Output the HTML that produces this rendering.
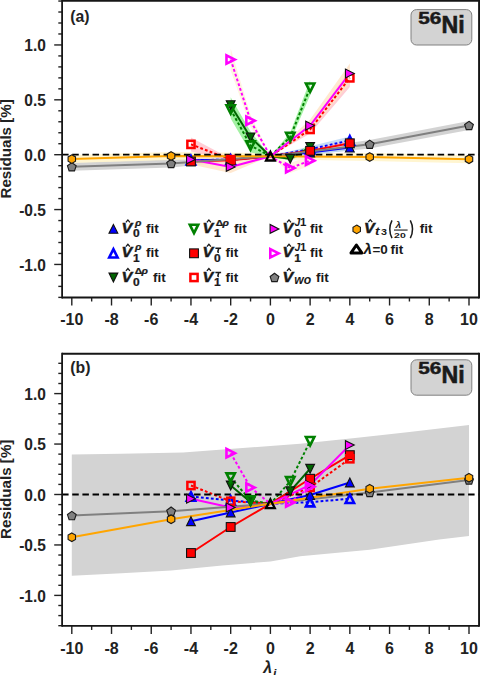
<!DOCTYPE html>
<html><head><meta charset="utf-8"><style>
html,body{margin:0;padding:0;background:#fff;width:480px;height:675px;overflow:hidden;}
svg{display:block;}
text{font-family:"Liberation Sans",sans-serif;}
</style></head><body>
<svg width="480" height="675" viewBox="0 0 480 675">
<rect width="480" height="675" fill="#fff"/>
<polygon points="71.80,162.77 171.10,159.48 270.40,154.24 369.70,140.07 469.00,120.91 469.00,130.11 369.70,148.47 270.40,158.24 171.10,167.48 71.80,170.77" fill="#c8c8c8" fill-opacity="0.8" stroke="none"/>
<polygon points="71.80,155.09 171.10,152.02 270.40,153.24 369.70,153.00 469.00,155.20 469.00,163.20 369.70,161.00 270.40,159.24 171.10,160.02 71.80,163.09" fill="#fff3c4" fill-opacity="0.8" stroke="none"/>
<polygon points="190.96,158.19 230.68,157.64 270.40,156.24 310.12,150.00 349.84,144.57 349.84,150.57 310.12,155.00 270.40,156.24 230.68,161.64 190.96,162.19" fill="#b8d4f4" fill-opacity="0.8" stroke="none"/>
<polygon points="190.96,158.19 230.68,157.64 270.40,156.24 310.12,146.21 349.84,136.43 349.84,144.43 310.12,152.21 270.40,156.24 230.68,161.64 190.96,162.19" fill="#b8d4f4" fill-opacity="0.8" stroke="none"/>
<polygon points="230.68,97.20 250.54,131.47 270.40,156.24 290.26,156.76 310.12,144.02 310.12,150.02 290.26,160.76 270.40,156.24 250.54,143.47 230.68,113.20" fill="#8ced8c" fill-opacity="0.8" stroke="none"/>
<polygon points="230.68,100.48 250.54,138.59 270.40,156.24 290.26,132.42 310.12,80.25 310.12,95.25 290.26,141.42 270.40,156.24 250.54,152.59 230.68,118.48" fill="#8ced8c" fill-opacity="0.8" stroke="none"/>
<polygon points="190.96,159.50 230.68,158.19 270.40,156.24 310.12,148.86 349.84,140.29 349.84,146.29 310.12,152.86 270.40,156.24 230.68,162.19 190.96,163.50" fill="#ffc0cb" fill-opacity="0.8" stroke="none"/>
<polygon points="190.96,137.38 230.68,158.64 270.40,156.24 310.12,125.46 349.84,68.88 349.84,86.88 310.12,133.46 270.40,156.24 230.68,160.64 190.96,151.38" fill="#ffc0cb" fill-opacity="0.8" stroke="none"/>
<polygon points="190.96,154.42 230.68,160.88 270.40,156.24 310.12,119.62 349.84,63.48 349.84,83.48 310.12,131.62 270.40,156.24 230.68,172.88 190.96,164.42" fill="#ffe2c4" fill-opacity="0.8" stroke="none"/>
<polygon points="230.68,48.55 250.54,114.68 270.40,156.24 290.26,163.09 310.12,155.63 310.12,165.63 290.26,173.09 270.40,156.24 250.54,126.68 230.68,70.55" fill="#fff0d8" fill-opacity="0.8" stroke="none"/>
<polyline points="190.96,160.19 230.68,159.64 270.40,156.24 310.12,152.50 349.84,147.57" fill="none" stroke="#0000ff" stroke-width="2.0"/>
<polyline points="190.96,160.19 230.68,159.64 270.40,156.24 310.12,149.21 349.84,140.43" fill="none" stroke="#0000ff" stroke-width="2.0" stroke-dasharray="2.8,2.2"/>
<polyline points="230.68,105.20 250.54,137.47 270.40,156.24 290.26,158.76 310.12,147.02" fill="none" stroke="#006400" stroke-width="2.0"/>
<polyline points="230.68,109.48 250.54,145.59 270.40,156.24 290.26,136.92 310.12,87.75" fill="none" stroke="#008000" stroke-width="2.0" stroke-dasharray="2.8,2.2"/>
<polyline points="190.96,161.50 230.68,160.19 270.40,156.24 310.12,150.86 349.84,143.29" fill="none" stroke="#ff0000" stroke-width="2.0"/>
<polyline points="190.96,144.38 230.68,159.64 270.40,156.24 310.12,129.46 349.84,77.88" fill="none" stroke="#ff0000" stroke-width="2.0" stroke-dasharray="2.8,2.2"/>
<polyline points="190.96,159.42 230.68,166.88 270.40,156.24 310.12,125.62 349.84,73.48" fill="none" stroke="#ff00ff" stroke-width="2.0"/>
<polyline points="230.68,59.55 250.54,120.68 270.40,156.24 290.26,168.09 310.12,160.63" fill="none" stroke="#ff00ff" stroke-width="2.0" stroke-dasharray="2.8,2.2"/>
<polyline points="71.80,166.77 171.10,163.48 270.40,156.24 369.70,144.27 469.00,125.51" fill="none" stroke="#808080" stroke-width="2.0"/>
<polyline points="71.80,159.09 171.10,156.02 270.40,156.24 369.70,157.00 469.00,159.20" fill="none" stroke="#FFA500" stroke-width="2.0"/>
<line x1="62.1" y1="154.70" x2="478.8" y2="154.70" stroke="#000" stroke-width="1.8" stroke-dasharray="6.5,3.65"/>
<polygon points="71.80,162.57 76.17,165.75 74.50,170.89 69.10,170.89 67.43,165.75" fill="#808080" stroke="#1a1a1a" stroke-width="1.1"/>
<polygon points="171.10,159.28 175.47,162.46 173.80,167.60 168.40,167.60 166.73,162.46" fill="#808080" stroke="#1a1a1a" stroke-width="1.1"/>
<polygon points="369.70,140.07 374.07,143.25 372.40,148.40 367.00,148.40 365.33,143.25" fill="#808080" stroke="#1a1a1a" stroke-width="1.1"/>
<polygon points="469.00,121.31 473.37,124.49 471.70,129.63 466.30,129.63 464.63,124.49" fill="#808080" stroke="#1a1a1a" stroke-width="1.1"/>
<polygon points="71.80,154.79 75.52,156.94 75.52,161.24 71.80,163.39 68.08,161.24 68.08,156.94" fill="#FFA500" stroke="#1a1a1a" stroke-width="1.1"/>
<polygon points="171.10,151.72 174.82,153.87 174.82,158.17 171.10,160.32 167.38,158.17 167.38,153.87" fill="#FFA500" stroke="#1a1a1a" stroke-width="1.1"/>
<polygon points="369.70,152.70 373.42,154.85 373.42,159.15 369.70,161.30 365.98,159.15 365.98,154.85" fill="#FFA500" stroke="#1a1a1a" stroke-width="1.1"/>
<polygon points="469.00,154.90 472.72,157.05 472.72,161.35 469.00,163.50 465.28,161.35 465.28,157.05" fill="#FFA500" stroke="#1a1a1a" stroke-width="1.1"/>
<polygon points="190.96,155.79 195.36,164.59 186.56,164.59" fill="#0000ff" stroke="#111" stroke-width="1.1" stroke-linejoin="miter"/>
<polygon points="230.68,155.24 235.08,164.04 226.28,164.04" fill="#0000ff" stroke="#111" stroke-width="1.1" stroke-linejoin="miter"/>
<polygon points="310.12,148.10 314.52,156.91 305.72,156.91" fill="#0000ff" stroke="#111" stroke-width="1.1" stroke-linejoin="miter"/>
<polygon points="349.84,143.17 354.24,151.97 345.44,151.97" fill="#0000ff" stroke="#111" stroke-width="1.1" stroke-linejoin="miter"/>
<polygon points="190.96,155.99 195.16,164.39 186.76,164.39" fill="none" stroke="#0000ff" stroke-width="2.6" stroke-linejoin="miter"/>
<polygon points="230.68,155.44 234.88,163.84 226.48,163.84" fill="none" stroke="#0000ff" stroke-width="2.6" stroke-linejoin="miter"/>
<polygon points="310.12,145.01 314.32,153.41 305.92,153.41" fill="none" stroke="#0000ff" stroke-width="2.6" stroke-linejoin="miter"/>
<polygon points="349.84,136.23 354.04,144.63 345.64,144.63" fill="none" stroke="#0000ff" stroke-width="2.6" stroke-linejoin="miter"/>
<polygon points="230.68,109.60 235.08,100.80 226.28,100.80" fill="#006400" stroke="#111" stroke-width="1.1"/>
<polygon points="250.54,141.87 254.94,133.07 246.14,133.07" fill="#006400" stroke="#111" stroke-width="1.1"/>
<polygon points="290.26,163.16 294.66,154.36 285.86,154.36" fill="#006400" stroke="#111" stroke-width="1.1"/>
<polygon points="310.12,151.42 314.52,142.62 305.72,142.62" fill="#006400" stroke="#111" stroke-width="1.1"/>
<polygon points="230.68,113.68 234.88,105.28 226.48,105.28" fill="none" stroke="#008000" stroke-width="2.6"/>
<polygon points="250.54,149.79 254.74,141.39 246.34,141.39" fill="none" stroke="#008000" stroke-width="2.6"/>
<polygon points="290.26,141.12 294.46,132.72 286.06,132.72" fill="none" stroke="#008000" stroke-width="2.6"/>
<polygon points="310.12,91.95 314.32,83.55 305.92,83.55" fill="none" stroke="#008000" stroke-width="2.6"/>
<rect x="186.56" y="157.10" width="8.80" height="8.80" fill="#ff0000" stroke="#111" stroke-width="1.1"/>
<rect x="226.28" y="155.79" width="8.80" height="8.80" fill="#ff0000" stroke="#111" stroke-width="1.1"/>
<rect x="305.72" y="146.46" width="8.80" height="8.80" fill="#ff0000" stroke="#111" stroke-width="1.1"/>
<rect x="345.44" y="138.89" width="8.80" height="8.80" fill="#ff0000" stroke="#111" stroke-width="1.1"/>
<rect x="187.36" y="140.78" width="7.20" height="7.20" fill="none" stroke="#ff0000" stroke-width="2.5"/>
<rect x="227.08" y="156.04" width="7.20" height="7.20" fill="none" stroke="#ff0000" stroke-width="2.5"/>
<rect x="306.52" y="125.86" width="7.20" height="7.20" fill="none" stroke="#ff0000" stroke-width="2.5"/>
<rect x="346.24" y="74.28" width="7.20" height="7.20" fill="none" stroke="#ff0000" stroke-width="2.5"/>
<polygon points="195.36,159.42 186.56,155.02 186.56,163.82" fill="#ff00ff" stroke="#111" stroke-width="1.1"/>
<polygon points="235.08,166.88 226.28,162.48 226.28,171.28" fill="#ff00ff" stroke="#111" stroke-width="1.1"/>
<polygon points="314.52,125.62 305.72,121.22 305.72,130.02" fill="#ff00ff" stroke="#111" stroke-width="1.1"/>
<polygon points="354.24,73.48 345.44,69.08 345.44,77.88" fill="#ff00ff" stroke="#111" stroke-width="1.1"/>
<polygon points="234.88,59.55 226.48,55.35 226.48,63.75" fill="none" stroke="#ff00ff" stroke-width="2.6"/>
<polygon points="254.74,120.68 246.34,116.48 246.34,124.88" fill="none" stroke="#ff00ff" stroke-width="2.6"/>
<polygon points="294.46,168.09 286.06,163.89 286.06,172.29" fill="none" stroke="#ff00ff" stroke-width="2.6"/>
<polygon points="314.32,160.63 305.92,156.43 305.92,164.83" fill="none" stroke="#ff00ff" stroke-width="2.6"/>
<polygon points="270.40,151.94 274.70,160.54 266.10,160.54" fill="none" stroke="#000" stroke-width="2.4" stroke-linejoin="miter"/>
<line x1="58.3" y1="297.38" x2="62.1" y2="297.38" stroke="#222" stroke-width="1.4"/>
<line x1="58.3" y1="286.40" x2="62.1" y2="286.40" stroke="#222" stroke-width="1.4"/>
<line x1="58.3" y1="275.43" x2="62.1" y2="275.43" stroke="#222" stroke-width="1.4"/>
<line x1="54.2" y1="264.45" x2="62.1" y2="264.45" stroke="#222" stroke-width="1.4"/>
<text x="0" y="0" transform="translate(45.9,270.55) scale(0.97,1)" text-anchor="end" font-size="16" font-weight="bold" font-family="Liberation Sans, sans-serif" fill="#222">-1.0</text>
<line x1="58.3" y1="253.47" x2="62.1" y2="253.47" stroke="#222" stroke-width="1.4"/>
<line x1="58.3" y1="242.50" x2="62.1" y2="242.50" stroke="#222" stroke-width="1.4"/>
<line x1="58.3" y1="231.52" x2="62.1" y2="231.52" stroke="#222" stroke-width="1.4"/>
<line x1="58.3" y1="220.55" x2="62.1" y2="220.55" stroke="#222" stroke-width="1.4"/>
<line x1="54.2" y1="209.57" x2="62.1" y2="209.57" stroke="#222" stroke-width="1.4"/>
<text x="0" y="0" transform="translate(45.9,215.67) scale(0.97,1)" text-anchor="end" font-size="16" font-weight="bold" font-family="Liberation Sans, sans-serif" fill="#222">-0.5</text>
<line x1="58.3" y1="198.60" x2="62.1" y2="198.60" stroke="#222" stroke-width="1.4"/>
<line x1="58.3" y1="187.62" x2="62.1" y2="187.62" stroke="#222" stroke-width="1.4"/>
<line x1="58.3" y1="176.65" x2="62.1" y2="176.65" stroke="#222" stroke-width="1.4"/>
<line x1="58.3" y1="165.67" x2="62.1" y2="165.67" stroke="#222" stroke-width="1.4"/>
<line x1="54.2" y1="154.70" x2="62.1" y2="154.70" stroke="#222" stroke-width="1.4"/>
<text x="0" y="0" transform="translate(45.9,160.80) scale(0.97,1)" text-anchor="end" font-size="16" font-weight="bold" font-family="Liberation Sans, sans-serif" fill="#222">0.0</text>
<line x1="58.3" y1="143.72" x2="62.1" y2="143.72" stroke="#222" stroke-width="1.4"/>
<line x1="58.3" y1="132.75" x2="62.1" y2="132.75" stroke="#222" stroke-width="1.4"/>
<line x1="58.3" y1="121.77" x2="62.1" y2="121.77" stroke="#222" stroke-width="1.4"/>
<line x1="58.3" y1="110.80" x2="62.1" y2="110.80" stroke="#222" stroke-width="1.4"/>
<line x1="54.2" y1="99.82" x2="62.1" y2="99.82" stroke="#222" stroke-width="1.4"/>
<text x="0" y="0" transform="translate(45.9,105.92) scale(0.97,1)" text-anchor="end" font-size="16" font-weight="bold" font-family="Liberation Sans, sans-serif" fill="#222">0.5</text>
<line x1="58.3" y1="88.85" x2="62.1" y2="88.85" stroke="#222" stroke-width="1.4"/>
<line x1="58.3" y1="77.88" x2="62.1" y2="77.88" stroke="#222" stroke-width="1.4"/>
<line x1="58.3" y1="66.90" x2="62.1" y2="66.90" stroke="#222" stroke-width="1.4"/>
<line x1="58.3" y1="55.92" x2="62.1" y2="55.92" stroke="#222" stroke-width="1.4"/>
<line x1="54.2" y1="44.95" x2="62.1" y2="44.95" stroke="#222" stroke-width="1.4"/>
<text x="0" y="0" transform="translate(45.9,51.05) scale(0.97,1)" text-anchor="end" font-size="16" font-weight="bold" font-family="Liberation Sans, sans-serif" fill="#222">1.0</text>
<line x1="58.3" y1="33.97" x2="62.1" y2="33.97" stroke="#222" stroke-width="1.4"/>
<line x1="58.3" y1="23.00" x2="62.1" y2="23.00" stroke="#222" stroke-width="1.4"/>
<line x1="58.3" y1="12.02" x2="62.1" y2="12.02" stroke="#222" stroke-width="1.4"/>
<line x1="58.3" y1="1.05" x2="62.1" y2="1.05" stroke="#222" stroke-width="1.4"/>
<line x1="71.80" y1="297.5" x2="71.80" y2="305.5" stroke="#222" stroke-width="1.4"/>
<text x="71.80" y="325.10" text-anchor="middle" font-size="16" font-weight="bold" font-family="Liberation Sans, sans-serif" fill="#222">-10</text>
<line x1="91.66" y1="297.5" x2="91.66" y2="301.5" stroke="#222" stroke-width="1.4"/>
<line x1="111.52" y1="297.5" x2="111.52" y2="305.5" stroke="#222" stroke-width="1.4"/>
<text x="111.52" y="325.10" text-anchor="middle" font-size="16" font-weight="bold" font-family="Liberation Sans, sans-serif" fill="#222">-8</text>
<line x1="131.38" y1="297.5" x2="131.38" y2="301.5" stroke="#222" stroke-width="1.4"/>
<line x1="151.24" y1="297.5" x2="151.24" y2="305.5" stroke="#222" stroke-width="1.4"/>
<text x="151.24" y="325.10" text-anchor="middle" font-size="16" font-weight="bold" font-family="Liberation Sans, sans-serif" fill="#222">-6</text>
<line x1="171.10" y1="297.5" x2="171.10" y2="301.5" stroke="#222" stroke-width="1.4"/>
<line x1="190.96" y1="297.5" x2="190.96" y2="305.5" stroke="#222" stroke-width="1.4"/>
<text x="190.96" y="325.10" text-anchor="middle" font-size="16" font-weight="bold" font-family="Liberation Sans, sans-serif" fill="#222">-4</text>
<line x1="210.82" y1="297.5" x2="210.82" y2="301.5" stroke="#222" stroke-width="1.4"/>
<line x1="230.68" y1="297.5" x2="230.68" y2="305.5" stroke="#222" stroke-width="1.4"/>
<text x="230.68" y="325.10" text-anchor="middle" font-size="16" font-weight="bold" font-family="Liberation Sans, sans-serif" fill="#222">-2</text>
<line x1="250.54" y1="297.5" x2="250.54" y2="301.5" stroke="#222" stroke-width="1.4"/>
<line x1="270.40" y1="297.5" x2="270.40" y2="305.5" stroke="#222" stroke-width="1.4"/>
<text x="270.40" y="325.10" text-anchor="middle" font-size="16" font-weight="bold" font-family="Liberation Sans, sans-serif" fill="#222">0</text>
<line x1="290.26" y1="297.5" x2="290.26" y2="301.5" stroke="#222" stroke-width="1.4"/>
<line x1="310.12" y1="297.5" x2="310.12" y2="305.5" stroke="#222" stroke-width="1.4"/>
<text x="310.12" y="325.10" text-anchor="middle" font-size="16" font-weight="bold" font-family="Liberation Sans, sans-serif" fill="#222">2</text>
<line x1="329.98" y1="297.5" x2="329.98" y2="301.5" stroke="#222" stroke-width="1.4"/>
<line x1="349.84" y1="297.5" x2="349.84" y2="305.5" stroke="#222" stroke-width="1.4"/>
<text x="349.84" y="325.10" text-anchor="middle" font-size="16" font-weight="bold" font-family="Liberation Sans, sans-serif" fill="#222">4</text>
<line x1="369.70" y1="297.5" x2="369.70" y2="301.5" stroke="#222" stroke-width="1.4"/>
<line x1="389.56" y1="297.5" x2="389.56" y2="305.5" stroke="#222" stroke-width="1.4"/>
<text x="389.56" y="325.10" text-anchor="middle" font-size="16" font-weight="bold" font-family="Liberation Sans, sans-serif" fill="#222">6</text>
<line x1="409.42" y1="297.5" x2="409.42" y2="301.5" stroke="#222" stroke-width="1.4"/>
<line x1="429.28" y1="297.5" x2="429.28" y2="305.5" stroke="#222" stroke-width="1.4"/>
<text x="429.28" y="325.10" text-anchor="middle" font-size="16" font-weight="bold" font-family="Liberation Sans, sans-serif" fill="#222">8</text>
<line x1="449.14" y1="297.5" x2="449.14" y2="301.5" stroke="#222" stroke-width="1.4"/>
<line x1="469.00" y1="297.5" x2="469.00" y2="305.5" stroke="#222" stroke-width="1.4"/>
<text x="469.00" y="325.10" text-anchor="middle" font-size="16" font-weight="bold" font-family="Liberation Sans, sans-serif" fill="#222">10</text>
<path d="M62.1,0.8 H479.1 M62.1,297.5 H479.1" stroke="#161616" stroke-width="1.8" fill="none"/>
<path d="M62.1,-0.09999999999999998 V298.4" stroke="#161616" stroke-width="1.8" fill="none"/>
<path d="M479.1,-0.09999999999999998 V298.4" stroke="#161616" stroke-width="2.0" fill="none"/>
<text x="70.3" y="21.7" font-size="15.8" font-weight="bold" font-family="Liberation Sans, sans-serif" fill="#222">(a)</text>
<rect x="411" y="9.6" width="60.8" height="35.4" rx="5.5" fill="#d3d3d3" stroke="#808080" stroke-width="1"/>
<text x="0" y="0" transform="translate(418.2,23.70) scale(1.3,1)" font-size="16" font-weight="bold" font-family="Liberation Sans, sans-serif" fill="#1a1a1a" stroke="#1a1a1a" stroke-width="0.45">56</text>
<text x="441.5" y="33.2" font-size="23.2" font-weight="bold" font-family="Liberation Sans, sans-serif" fill="#1a1a1a" stroke="#1a1a1a" stroke-width="0.6">Ni</text>
<polygon points="113.40,224.50 117.80,233.30 109.00,233.30" fill="#0000ff" stroke="#111" stroke-width="1.1" stroke-linejoin="miter"/>
<text x="0" y="0" transform="translate(121.50,232.90) scale(1.1,1)" font-size="14.6" font-weight="bold" font-style="italic" stroke="#1a1a1a" stroke-width="0.5" font-family="Liberation Sans, sans-serif" fill="#1a1a1a">V</text>
<path d="M125.90,222.30 L127.90,219.90 L129.90,222.30" fill="none" stroke="#1a1a1a" stroke-width="1.3"/>
<text x="0" y="0" transform="translate(133.10,237.10) scale(1.15,1)" font-size="10.4" font-weight="bold" stroke="#1a1a1a" stroke-width="0.25" font-family="Liberation Sans, sans-serif" fill="#1a1a1a">0</text>
<text x="0" y="0" transform="translate(135.10,225.80) scale(1.1,1)" font-size="9.6" font-weight="bold" font-style="italic" stroke="#1a1a1a" stroke-width="0.25" font-family="Liberation Sans, sans-serif" fill="#1a1a1a">ρ</text>
<text x="145.90" y="232.90" font-size="13.5" font-weight="bold" font-family="Liberation Sans, sans-serif" fill="#1a1a1a">fit</text>
<polygon points="113.40,249.10 117.60,257.50 109.20,257.50" fill="none" stroke="#0000ff" stroke-width="2.6" stroke-linejoin="miter"/>
<text x="0" y="0" transform="translate(121.50,257.30) scale(1.1,1)" font-size="14.6" font-weight="bold" font-style="italic" stroke="#1a1a1a" stroke-width="0.5" font-family="Liberation Sans, sans-serif" fill="#1a1a1a">V</text>
<path d="M125.90,246.70 L127.90,244.30 L129.90,246.70" fill="none" stroke="#1a1a1a" stroke-width="1.3"/>
<text x="0" y="0" transform="translate(133.10,261.50) scale(1.15,1)" font-size="10.4" font-weight="bold" stroke="#1a1a1a" stroke-width="0.25" font-family="Liberation Sans, sans-serif" fill="#1a1a1a">1</text>
<text x="0" y="0" transform="translate(135.10,250.20) scale(1.1,1)" font-size="9.6" font-weight="bold" font-style="italic" stroke="#1a1a1a" stroke-width="0.25" font-family="Liberation Sans, sans-serif" fill="#1a1a1a">ρ</text>
<text x="145.90" y="257.30" font-size="13.5" font-weight="bold" font-family="Liberation Sans, sans-serif" fill="#1a1a1a">fit</text>
<polygon points="113.40,281.90 117.80,273.10 109.00,273.10" fill="#006400" stroke="#111" stroke-width="1.1"/>
<text x="0" y="0" transform="translate(121.50,281.50) scale(1.1,1)" font-size="14.6" font-weight="bold" font-style="italic" stroke="#1a1a1a" stroke-width="0.5" font-family="Liberation Sans, sans-serif" fill="#1a1a1a">V</text>
<path d="M125.90,270.90 L127.90,268.50 L129.90,270.90" fill="none" stroke="#1a1a1a" stroke-width="1.3"/>
<text x="0" y="0" transform="translate(133.10,285.70) scale(1.15,1)" font-size="10.4" font-weight="bold" stroke="#1a1a1a" stroke-width="0.25" font-family="Liberation Sans, sans-serif" fill="#1a1a1a">0</text>
<text x="0" y="0" transform="translate(134.70,274.40) scale(1.1,1)" font-size="9.4" font-weight="bold" stroke="#1a1a1a" stroke-width="0.25" font-family="Liberation Sans, sans-serif" fill="#1a1a1a">Δ</text>
<text x="0" y="0" transform="translate(141.40,274.40) scale(1.1,1)" font-size="9.6" font-weight="bold" font-style="italic" stroke="#1a1a1a" stroke-width="0.25" font-family="Liberation Sans, sans-serif" fill="#1a1a1a">ρ</text>
<text x="153.00" y="281.50" font-size="13.5" font-weight="bold" font-family="Liberation Sans, sans-serif" fill="#1a1a1a">fit</text>
<polygon points="194.00,233.10 198.20,224.70 189.80,224.70" fill="none" stroke="#008000" stroke-width="2.6"/>
<text x="0" y="0" transform="translate(202.50,232.90) scale(1.1,1)" font-size="14.6" font-weight="bold" font-style="italic" stroke="#1a1a1a" stroke-width="0.5" font-family="Liberation Sans, sans-serif" fill="#1a1a1a">V</text>
<path d="M206.90,222.30 L208.90,219.90 L210.90,222.30" fill="none" stroke="#1a1a1a" stroke-width="1.3"/>
<text x="0" y="0" transform="translate(214.10,237.10) scale(1.15,1)" font-size="10.4" font-weight="bold" stroke="#1a1a1a" stroke-width="0.25" font-family="Liberation Sans, sans-serif" fill="#1a1a1a">1</text>
<text x="0" y="0" transform="translate(215.70,225.80) scale(1.1,1)" font-size="9.4" font-weight="bold" stroke="#1a1a1a" stroke-width="0.25" font-family="Liberation Sans, sans-serif" fill="#1a1a1a">Δ</text>
<text x="0" y="0" transform="translate(222.40,225.80) scale(1.1,1)" font-size="9.6" font-weight="bold" font-style="italic" stroke="#1a1a1a" stroke-width="0.25" font-family="Liberation Sans, sans-serif" fill="#1a1a1a">ρ</text>
<text x="233.90" y="232.90" font-size="13.5" font-weight="bold" font-family="Liberation Sans, sans-serif" fill="#1a1a1a">fit</text>
<rect x="189.60" y="248.90" width="8.80" height="8.80" fill="#ff0000" stroke="#111" stroke-width="1.1"/>
<text x="0" y="0" transform="translate(202.50,257.30) scale(1.1,1)" font-size="14.6" font-weight="bold" font-style="italic" stroke="#1a1a1a" stroke-width="0.5" font-family="Liberation Sans, sans-serif" fill="#1a1a1a">V</text>
<path d="M206.90,246.70 L208.90,244.30 L210.90,246.70" fill="none" stroke="#1a1a1a" stroke-width="1.3"/>
<text x="0" y="0" transform="translate(214.10,261.50) scale(1.15,1)" font-size="10.4" font-weight="bold" stroke="#1a1a1a" stroke-width="0.25" font-family="Liberation Sans, sans-serif" fill="#1a1a1a">0</text>
<path d="M215.40,248.30 L221.10,248.30 M218.80,248.30 L217.90,251.40 Q217.70,252.30 218.90,252.20" fill="none" stroke="#1a1a1a" stroke-width="1.6"/>
<text x="225.40" y="257.30" font-size="13.5" font-weight="bold" font-family="Liberation Sans, sans-serif" fill="#1a1a1a">fit</text>
<rect x="190.40" y="273.90" width="7.20" height="7.20" fill="none" stroke="#ff0000" stroke-width="2.5"/>
<text x="0" y="0" transform="translate(202.50,281.50) scale(1.1,1)" font-size="14.6" font-weight="bold" font-style="italic" stroke="#1a1a1a" stroke-width="0.5" font-family="Liberation Sans, sans-serif" fill="#1a1a1a">V</text>
<path d="M206.90,270.90 L208.90,268.50 L210.90,270.90" fill="none" stroke="#1a1a1a" stroke-width="1.3"/>
<text x="0" y="0" transform="translate(214.10,285.70) scale(1.15,1)" font-size="10.4" font-weight="bold" stroke="#1a1a1a" stroke-width="0.25" font-family="Liberation Sans, sans-serif" fill="#1a1a1a">1</text>
<path d="M215.40,272.50 L221.10,272.50 M218.80,272.50 L217.90,275.60 Q217.70,276.50 218.90,276.40" fill="none" stroke="#1a1a1a" stroke-width="1.6"/>
<text x="225.40" y="281.50" font-size="13.5" font-weight="bold" font-family="Liberation Sans, sans-serif" fill="#1a1a1a">fit</text>
<polygon points="278.90,228.90 270.10,224.50 270.10,233.30" fill="#ff00ff" stroke="#111" stroke-width="1.1"/>
<text x="0" y="0" transform="translate(282.60,232.90) scale(1.1,1)" font-size="14.6" font-weight="bold" font-style="italic" stroke="#1a1a1a" stroke-width="0.5" font-family="Liberation Sans, sans-serif" fill="#1a1a1a">V</text>
<path d="M287.00,222.30 L289.00,219.90 L291.00,222.30" fill="none" stroke="#1a1a1a" stroke-width="1.3"/>
<text x="0" y="0" transform="translate(294.20,237.10) scale(1.15,1)" font-size="10.4" font-weight="bold" stroke="#1a1a1a" stroke-width="0.25" font-family="Liberation Sans, sans-serif" fill="#1a1a1a">0</text>
<text x="294.50" y="226.40" font-size="10.4" font-weight="bold" font-style="italic" font-family="Liberation Sans, sans-serif" fill="#1a1a1a">J</text>
<text x="0" y="0" transform="translate(300.00,226.40) scale(1.15,1)" font-size="10.0" font-weight="bold" font-family="Liberation Sans, sans-serif" fill="#1a1a1a">1</text>
<text x="310.00" y="232.90" font-size="13.5" font-weight="bold" font-family="Liberation Sans, sans-serif" fill="#1a1a1a">fit</text>
<polygon points="278.70,253.30 270.30,249.10 270.30,257.50" fill="none" stroke="#ff00ff" stroke-width="2.6"/>
<text x="0" y="0" transform="translate(282.60,257.30) scale(1.1,1)" font-size="14.6" font-weight="bold" font-style="italic" stroke="#1a1a1a" stroke-width="0.5" font-family="Liberation Sans, sans-serif" fill="#1a1a1a">V</text>
<path d="M287.00,246.70 L289.00,244.30 L291.00,246.70" fill="none" stroke="#1a1a1a" stroke-width="1.3"/>
<text x="0" y="0" transform="translate(294.20,261.50) scale(1.15,1)" font-size="10.4" font-weight="bold" stroke="#1a1a1a" stroke-width="0.25" font-family="Liberation Sans, sans-serif" fill="#1a1a1a">1</text>
<text x="294.50" y="250.80" font-size="10.4" font-weight="bold" font-style="italic" font-family="Liberation Sans, sans-serif" fill="#1a1a1a">J</text>
<text x="0" y="0" transform="translate(300.00,250.80) scale(1.15,1)" font-size="10.0" font-weight="bold" font-family="Liberation Sans, sans-serif" fill="#1a1a1a">1</text>
<text x="310.00" y="257.30" font-size="13.5" font-weight="bold" font-family="Liberation Sans, sans-serif" fill="#1a1a1a">fit</text>
<polygon points="274.50,273.30 278.87,276.48 277.20,281.62 271.80,281.62 270.13,276.48" fill="#808080" stroke="#1a1a1a" stroke-width="1.1"/>
<text x="0" y="0" transform="translate(282.60,281.50) scale(1.1,1)" font-size="14.6" font-weight="bold" font-style="italic" stroke="#1a1a1a" stroke-width="0.5" font-family="Liberation Sans, sans-serif" fill="#1a1a1a">V</text>
<path d="M287.00,270.90 L289.00,268.50 L291.00,270.90" fill="none" stroke="#1a1a1a" stroke-width="1.3"/>
<text x="294.20" y="284.40" font-size="12.2" font-weight="bold" font-style="italic" font-family="Liberation Sans, sans-serif" fill="#1a1a1a">wo</text>
<text x="316.00" y="281.50" font-size="13.5" font-weight="bold" font-family="Liberation Sans, sans-serif" fill="#1a1a1a">fit</text>
<polygon points="356.70,225.05 360.42,227.20 360.42,231.50 356.70,233.65 352.98,231.50 352.98,227.20" fill="#FFA500" stroke="#1a1a1a" stroke-width="1.1"/>
<text x="0" y="0" transform="translate(363.90,232.65) scale(1.1,1)" font-size="14.6" font-weight="bold" font-style="italic" stroke="#1a1a1a" stroke-width="0.5" font-family="Liberation Sans, sans-serif" fill="#1a1a1a">V</text>
<path d="M368.30,222.05 L370.30,219.65 L372.30,222.05" fill="none" stroke="#1a1a1a" stroke-width="1.3"/>
<text x="0" y="0" transform="translate(375.00,234.90) scale(1.3,1)" font-size="10.5" font-weight="bold" font-style="italic" font-family="Liberation Sans, sans-serif" fill="#1a1a1a">t</text>
<text x="0" y="0" transform="translate(380.90,234.90) scale(1.25,1)" font-size="8.6" font-weight="bold" font-family="Liberation Sans, sans-serif" fill="#1a1a1a">3</text>
<path d="M392.0,220.4 Q387.5,229.3 392.0,238.2" fill="none" stroke="#1a1a1a" stroke-width="1.5"/>
<path d="M410.3,220.4 Q414.8,229.3 410.3,238.2" fill="none" stroke="#1a1a1a" stroke-width="1.5"/>
<text x="0" y="0" transform="translate(395.60,227.80) scale(1.05,1)" font-size="9.6" font-weight="bold" font-style="italic" font-family="Liberation Sans, sans-serif" fill="#1a1a1a">λ</text>
<line x1="394" y1="230.05" x2="407.6" y2="230.05" stroke="#1a1a1a" stroke-width="1.1"/>
<text x="0" y="0" transform="translate(394.10,237.90) scale(1.38,1)" font-size="7.6" font-weight="bold" font-family="Liberation Sans, sans-serif" fill="#1a1a1a">20</text>
<text x="419.80" y="232.65" font-size="13.5" font-weight="bold" font-family="Liberation Sans, sans-serif" fill="#1a1a1a">fit</text>
<polygon points="356.4,245.0 361.8,252.9 351.0,252.9" fill="none" stroke="#000" stroke-width="3.0" stroke-linejoin="round"/>
<text x="0" y="0" transform="translate(363.60,254.00) scale(1.08,1)" font-size="14.2" font-weight="bold" font-style="italic" font-family="Liberation Sans, sans-serif" fill="#1a1a1a">λ</text>
<text x="372.40" y="254.00" font-size="13.5" font-weight="bold" font-family="Liberation Sans, sans-serif" fill="#1a1a1a">=0</text>
<text x="390.60" y="254.00" font-size="13.5" font-weight="bold" font-family="Liberation Sans, sans-serif" fill="#1a1a1a">fit</text>
<polygon points="71.80,454.44 121.45,453.84 183.02,452.42 222.74,449.40 270.40,446.07 300.19,443.75 359.77,437.49 409.42,432.04 469.00,425.08 469.00,535.97 439.21,539.60 369.70,549.79 300.19,556.15 281.92,559.48 270.40,561.50 222.14,565.53 171.10,570.58 121.45,573.20 71.80,575.72" fill="#d3d3d3"/>
<polyline points="190.96,521.24 230.68,512.46 270.40,503.78 310.12,495.00 349.84,482.49" fill="none" stroke="#0000ff" stroke-width="2.0"/>
<polyline points="190.96,496.52 230.68,500.55 270.40,503.78 310.12,502.17 349.84,498.74" fill="none" stroke="#0000ff" stroke-width="2.0" stroke-dasharray="2.8,2.2"/>
<polyline points="230.68,485.52 250.54,501.97 270.40,503.78 290.26,491.27 310.12,468.77" fill="none" stroke="#006400" stroke-width="2.0"/>
<polyline points="230.68,477.55 250.54,500.55 270.40,503.78 290.26,481.28 310.12,441.22" fill="none" stroke="#008000" stroke-width="2.0" stroke-dasharray="2.8,2.2"/>
<polyline points="190.96,553.02 230.68,526.99 270.40,503.78 310.12,478.76 349.84,455.15" fill="none" stroke="#ff0000" stroke-width="2.0"/>
<polyline points="190.96,485.52 230.68,501.26 270.40,503.78 310.12,487.44 349.84,458.78" fill="none" stroke="#ff0000" stroke-width="2.0" stroke-dasharray="2.8,2.2"/>
<polyline points="190.96,498.74 230.68,507.52 270.40,503.78 310.12,485.02 349.84,445.06" fill="none" stroke="#ff00ff" stroke-width="2.0"/>
<polyline points="230.68,453.13 250.54,487.54 270.40,503.78 290.26,502.47 310.12,486.73" fill="none" stroke="#ff00ff" stroke-width="2.0" stroke-dasharray="2.8,2.2"/>
<polyline points="71.80,515.59 171.10,511.25 270.40,503.78 369.70,492.48 469.00,479.97" fill="none" stroke="#808080" stroke-width="2.0"/>
<polyline points="71.80,537.28 171.10,519.22 270.40,503.78 369.70,488.75 469.00,477.75" fill="none" stroke="#FFA500" stroke-width="2.0"/>
<line x1="62.1" y1="494.50" x2="478.8" y2="494.50" stroke="#000" stroke-width="1.8" stroke-dasharray="6.5,3.65"/>
<polygon points="71.80,511.39 76.17,514.57 74.50,519.71 69.10,519.71 67.43,514.57" fill="#808080" stroke="#1a1a1a" stroke-width="1.1"/>
<polygon points="171.10,507.05 175.47,510.23 173.80,515.37 168.40,515.37 166.73,510.23" fill="#808080" stroke="#1a1a1a" stroke-width="1.1"/>
<polygon points="369.70,488.28 374.07,491.46 372.40,496.60 367.00,496.60 365.33,491.46" fill="#808080" stroke="#1a1a1a" stroke-width="1.1"/>
<polygon points="469.00,475.77 473.37,478.95 471.70,484.09 466.30,484.09 464.63,478.95" fill="#808080" stroke="#1a1a1a" stroke-width="1.1"/>
<polygon points="71.80,532.98 75.52,535.13 75.52,539.43 71.80,541.58 68.08,539.43 68.08,535.13" fill="#FFA500" stroke="#1a1a1a" stroke-width="1.1"/>
<polygon points="171.10,514.92 174.82,517.07 174.82,521.37 171.10,523.52 167.38,521.37 167.38,517.07" fill="#FFA500" stroke="#1a1a1a" stroke-width="1.1"/>
<polygon points="369.70,484.45 373.42,486.60 373.42,490.90 369.70,493.05 365.98,490.90 365.98,486.60" fill="#FFA500" stroke="#1a1a1a" stroke-width="1.1"/>
<polygon points="469.00,473.45 472.72,475.60 472.72,479.90 469.00,482.05 465.28,479.90 465.28,475.60" fill="#FFA500" stroke="#1a1a1a" stroke-width="1.1"/>
<polygon points="190.96,516.84 195.36,525.64 186.56,525.64" fill="#0000ff" stroke="#111" stroke-width="1.1" stroke-linejoin="miter"/>
<polygon points="230.68,508.06 235.08,516.86 226.28,516.86" fill="#0000ff" stroke="#111" stroke-width="1.1" stroke-linejoin="miter"/>
<polygon points="310.12,490.60 314.52,499.40 305.72,499.40" fill="#0000ff" stroke="#111" stroke-width="1.1" stroke-linejoin="miter"/>
<polygon points="349.84,478.09 354.24,486.89 345.44,486.89" fill="#0000ff" stroke="#111" stroke-width="1.1" stroke-linejoin="miter"/>
<polygon points="190.96,492.32 195.16,500.72 186.76,500.72" fill="none" stroke="#0000ff" stroke-width="2.6" stroke-linejoin="miter"/>
<polygon points="230.68,496.35 234.88,504.75 226.48,504.75" fill="none" stroke="#0000ff" stroke-width="2.6" stroke-linejoin="miter"/>
<polygon points="310.12,497.97 314.32,506.37 305.92,506.37" fill="none" stroke="#0000ff" stroke-width="2.6" stroke-linejoin="miter"/>
<polygon points="349.84,494.54 354.04,502.94 345.64,502.94" fill="none" stroke="#0000ff" stroke-width="2.6" stroke-linejoin="miter"/>
<polygon points="230.68,489.92 235.08,481.12 226.28,481.12" fill="#006400" stroke="#111" stroke-width="1.1"/>
<polygon points="250.54,506.37 254.94,497.57 246.14,497.57" fill="#006400" stroke="#111" stroke-width="1.1"/>
<polygon points="290.26,495.67 294.66,486.87 285.86,486.87" fill="#006400" stroke="#111" stroke-width="1.1"/>
<polygon points="310.12,473.17 314.52,464.37 305.72,464.37" fill="#006400" stroke="#111" stroke-width="1.1"/>
<polygon points="230.68,481.75 234.88,473.35 226.48,473.35" fill="none" stroke="#008000" stroke-width="2.6"/>
<polygon points="250.54,504.75 254.74,496.35 246.34,496.35" fill="none" stroke="#008000" stroke-width="2.6"/>
<polygon points="290.26,485.48 294.46,477.08 286.06,477.08" fill="none" stroke="#008000" stroke-width="2.6"/>
<polygon points="310.12,445.42 314.32,437.02 305.92,437.02" fill="none" stroke="#008000" stroke-width="2.6"/>
<rect x="186.56" y="548.62" width="8.80" height="8.80" fill="#ff0000" stroke="#111" stroke-width="1.1"/>
<rect x="226.28" y="522.59" width="8.80" height="8.80" fill="#ff0000" stroke="#111" stroke-width="1.1"/>
<rect x="305.72" y="474.36" width="8.80" height="8.80" fill="#ff0000" stroke="#111" stroke-width="1.1"/>
<rect x="345.44" y="450.75" width="8.80" height="8.80" fill="#ff0000" stroke="#111" stroke-width="1.1"/>
<rect x="187.36" y="481.92" width="7.20" height="7.20" fill="none" stroke="#ff0000" stroke-width="2.5"/>
<rect x="227.08" y="497.66" width="7.20" height="7.20" fill="none" stroke="#ff0000" stroke-width="2.5"/>
<rect x="306.52" y="483.84" width="7.20" height="7.20" fill="none" stroke="#ff0000" stroke-width="2.5"/>
<rect x="346.24" y="455.18" width="7.20" height="7.20" fill="none" stroke="#ff0000" stroke-width="2.5"/>
<polygon points="195.36,498.74 186.56,494.34 186.56,503.14" fill="#ff00ff" stroke="#111" stroke-width="1.1"/>
<polygon points="235.08,507.52 226.28,503.12 226.28,511.92" fill="#ff00ff" stroke="#111" stroke-width="1.1"/>
<polygon points="314.52,485.02 305.72,480.62 305.72,489.42" fill="#ff00ff" stroke="#111" stroke-width="1.1"/>
<polygon points="354.24,445.06 345.44,440.66 345.44,449.46" fill="#ff00ff" stroke="#111" stroke-width="1.1"/>
<polygon points="234.88,453.13 226.48,448.93 226.48,457.33" fill="none" stroke="#ff00ff" stroke-width="2.6"/>
<polygon points="254.74,487.54 246.34,483.34 246.34,491.74" fill="none" stroke="#ff00ff" stroke-width="2.6"/>
<polygon points="294.46,502.47 286.06,498.27 286.06,506.67" fill="none" stroke="#ff00ff" stroke-width="2.6"/>
<polygon points="314.32,486.73 305.92,482.53 305.92,490.93" fill="none" stroke="#ff00ff" stroke-width="2.6"/>
<polygon points="270.40,499.48 274.70,508.08 266.10,508.08" fill="none" stroke="#000" stroke-width="2.4" stroke-linejoin="miter"/>
<line x1="58.3" y1="625.67" x2="62.1" y2="625.67" stroke="#222" stroke-width="1.4"/>
<line x1="58.3" y1="615.58" x2="62.1" y2="615.58" stroke="#222" stroke-width="1.4"/>
<line x1="58.3" y1="605.49" x2="62.1" y2="605.49" stroke="#222" stroke-width="1.4"/>
<line x1="54.2" y1="595.40" x2="62.1" y2="595.40" stroke="#222" stroke-width="1.4"/>
<text x="0" y="0" transform="translate(45.9,601.50) scale(0.97,1)" text-anchor="end" font-size="16" font-weight="bold" font-family="Liberation Sans, sans-serif" fill="#222">-1.0</text>
<line x1="58.3" y1="585.31" x2="62.1" y2="585.31" stroke="#222" stroke-width="1.4"/>
<line x1="58.3" y1="575.22" x2="62.1" y2="575.22" stroke="#222" stroke-width="1.4"/>
<line x1="58.3" y1="565.13" x2="62.1" y2="565.13" stroke="#222" stroke-width="1.4"/>
<line x1="58.3" y1="555.04" x2="62.1" y2="555.04" stroke="#222" stroke-width="1.4"/>
<line x1="54.2" y1="544.95" x2="62.1" y2="544.95" stroke="#222" stroke-width="1.4"/>
<text x="0" y="0" transform="translate(45.9,551.05) scale(0.97,1)" text-anchor="end" font-size="16" font-weight="bold" font-family="Liberation Sans, sans-serif" fill="#222">-0.5</text>
<line x1="58.3" y1="534.86" x2="62.1" y2="534.86" stroke="#222" stroke-width="1.4"/>
<line x1="58.3" y1="524.77" x2="62.1" y2="524.77" stroke="#222" stroke-width="1.4"/>
<line x1="58.3" y1="514.68" x2="62.1" y2="514.68" stroke="#222" stroke-width="1.4"/>
<line x1="58.3" y1="504.59" x2="62.1" y2="504.59" stroke="#222" stroke-width="1.4"/>
<line x1="54.2" y1="494.50" x2="62.1" y2="494.50" stroke="#222" stroke-width="1.4"/>
<text x="0" y="0" transform="translate(45.9,500.60) scale(0.97,1)" text-anchor="end" font-size="16" font-weight="bold" font-family="Liberation Sans, sans-serif" fill="#222">0.0</text>
<line x1="58.3" y1="484.41" x2="62.1" y2="484.41" stroke="#222" stroke-width="1.4"/>
<line x1="58.3" y1="474.32" x2="62.1" y2="474.32" stroke="#222" stroke-width="1.4"/>
<line x1="58.3" y1="464.23" x2="62.1" y2="464.23" stroke="#222" stroke-width="1.4"/>
<line x1="58.3" y1="454.14" x2="62.1" y2="454.14" stroke="#222" stroke-width="1.4"/>
<line x1="54.2" y1="444.05" x2="62.1" y2="444.05" stroke="#222" stroke-width="1.4"/>
<text x="0" y="0" transform="translate(45.9,450.15) scale(0.97,1)" text-anchor="end" font-size="16" font-weight="bold" font-family="Liberation Sans, sans-serif" fill="#222">0.5</text>
<line x1="58.3" y1="433.96" x2="62.1" y2="433.96" stroke="#222" stroke-width="1.4"/>
<line x1="58.3" y1="423.87" x2="62.1" y2="423.87" stroke="#222" stroke-width="1.4"/>
<line x1="58.3" y1="413.78" x2="62.1" y2="413.78" stroke="#222" stroke-width="1.4"/>
<line x1="58.3" y1="403.69" x2="62.1" y2="403.69" stroke="#222" stroke-width="1.4"/>
<line x1="54.2" y1="393.60" x2="62.1" y2="393.60" stroke="#222" stroke-width="1.4"/>
<text x="0" y="0" transform="translate(45.9,399.70) scale(0.97,1)" text-anchor="end" font-size="16" font-weight="bold" font-family="Liberation Sans, sans-serif" fill="#222">1.0</text>
<line x1="58.3" y1="383.51" x2="62.1" y2="383.51" stroke="#222" stroke-width="1.4"/>
<line x1="58.3" y1="373.42" x2="62.1" y2="373.42" stroke="#222" stroke-width="1.4"/>
<line x1="58.3" y1="363.33" x2="62.1" y2="363.33" stroke="#222" stroke-width="1.4"/>
<line x1="71.80" y1="625.95" x2="71.80" y2="633.95" stroke="#222" stroke-width="1.4"/>
<text x="71.80" y="653.55" text-anchor="middle" font-size="16" font-weight="bold" font-family="Liberation Sans, sans-serif" fill="#222">-10</text>
<line x1="91.66" y1="625.95" x2="91.66" y2="629.95" stroke="#222" stroke-width="1.4"/>
<line x1="111.52" y1="625.95" x2="111.52" y2="633.95" stroke="#222" stroke-width="1.4"/>
<text x="111.52" y="653.55" text-anchor="middle" font-size="16" font-weight="bold" font-family="Liberation Sans, sans-serif" fill="#222">-8</text>
<line x1="131.38" y1="625.95" x2="131.38" y2="629.95" stroke="#222" stroke-width="1.4"/>
<line x1="151.24" y1="625.95" x2="151.24" y2="633.95" stroke="#222" stroke-width="1.4"/>
<text x="151.24" y="653.55" text-anchor="middle" font-size="16" font-weight="bold" font-family="Liberation Sans, sans-serif" fill="#222">-6</text>
<line x1="171.10" y1="625.95" x2="171.10" y2="629.95" stroke="#222" stroke-width="1.4"/>
<line x1="190.96" y1="625.95" x2="190.96" y2="633.95" stroke="#222" stroke-width="1.4"/>
<text x="190.96" y="653.55" text-anchor="middle" font-size="16" font-weight="bold" font-family="Liberation Sans, sans-serif" fill="#222">-4</text>
<line x1="210.82" y1="625.95" x2="210.82" y2="629.95" stroke="#222" stroke-width="1.4"/>
<line x1="230.68" y1="625.95" x2="230.68" y2="633.95" stroke="#222" stroke-width="1.4"/>
<text x="230.68" y="653.55" text-anchor="middle" font-size="16" font-weight="bold" font-family="Liberation Sans, sans-serif" fill="#222">-2</text>
<line x1="250.54" y1="625.95" x2="250.54" y2="629.95" stroke="#222" stroke-width="1.4"/>
<line x1="270.40" y1="625.95" x2="270.40" y2="633.95" stroke="#222" stroke-width="1.4"/>
<text x="270.40" y="653.55" text-anchor="middle" font-size="16" font-weight="bold" font-family="Liberation Sans, sans-serif" fill="#222">0</text>
<line x1="290.26" y1="625.95" x2="290.26" y2="629.95" stroke="#222" stroke-width="1.4"/>
<line x1="310.12" y1="625.95" x2="310.12" y2="633.95" stroke="#222" stroke-width="1.4"/>
<text x="310.12" y="653.55" text-anchor="middle" font-size="16" font-weight="bold" font-family="Liberation Sans, sans-serif" fill="#222">2</text>
<line x1="329.98" y1="625.95" x2="329.98" y2="629.95" stroke="#222" stroke-width="1.4"/>
<line x1="349.84" y1="625.95" x2="349.84" y2="633.95" stroke="#222" stroke-width="1.4"/>
<text x="349.84" y="653.55" text-anchor="middle" font-size="16" font-weight="bold" font-family="Liberation Sans, sans-serif" fill="#222">4</text>
<line x1="369.70" y1="625.95" x2="369.70" y2="629.95" stroke="#222" stroke-width="1.4"/>
<line x1="389.56" y1="625.95" x2="389.56" y2="633.95" stroke="#222" stroke-width="1.4"/>
<text x="389.56" y="653.55" text-anchor="middle" font-size="16" font-weight="bold" font-family="Liberation Sans, sans-serif" fill="#222">6</text>
<line x1="409.42" y1="625.95" x2="409.42" y2="629.95" stroke="#222" stroke-width="1.4"/>
<line x1="429.28" y1="625.95" x2="429.28" y2="633.95" stroke="#222" stroke-width="1.4"/>
<text x="429.28" y="653.55" text-anchor="middle" font-size="16" font-weight="bold" font-family="Liberation Sans, sans-serif" fill="#222">8</text>
<line x1="449.14" y1="625.95" x2="449.14" y2="629.95" stroke="#222" stroke-width="1.4"/>
<line x1="469.00" y1="625.95" x2="469.00" y2="633.95" stroke="#222" stroke-width="1.4"/>
<text x="469.00" y="653.55" text-anchor="middle" font-size="16" font-weight="bold" font-family="Liberation Sans, sans-serif" fill="#222">10</text>
<path d="M62.1,353.75 H479.1 M62.1,625.95 H479.1" stroke="#161616" stroke-width="1.8" fill="none"/>
<path d="M62.1,352.85 V626.85" stroke="#161616" stroke-width="1.8" fill="none"/>
<path d="M479.1,352.85 V626.85" stroke="#161616" stroke-width="2.0" fill="none"/>
<text x="70.3" y="373.0" font-size="15.8" font-weight="bold" font-family="Liberation Sans, sans-serif" fill="#222">(b)</text>
<rect x="411" y="359.8" width="60.8" height="35.4" rx="5.5" fill="#d3d3d3" stroke="#808080" stroke-width="1"/>
<text x="0" y="0" transform="translate(418.2,373.90) scale(1.3,1)" font-size="16" font-weight="bold" font-family="Liberation Sans, sans-serif" fill="#1a1a1a" stroke="#1a1a1a" stroke-width="0.45">56</text>
<text x="441.5" y="383.40000000000003" font-size="23.2" font-weight="bold" font-family="Liberation Sans, sans-serif" fill="#1a1a1a" stroke="#1a1a1a" stroke-width="0.6">Ni</text>
<text x="0" y="0" transform="translate(11.2,148.85) rotate(-90)" text-anchor="middle" font-size="15.15" font-weight="bold" font-family="Liberation Sans, sans-serif" fill="#222">Residuals [%]</text>
<text x="0" y="0" transform="translate(11.2,489.25) rotate(-90)" text-anchor="middle" font-size="15.15" font-weight="bold" font-family="Liberation Sans, sans-serif" fill="#222">Residuals [%]</text>
<text x="263.2" y="673" font-size="16" font-weight="bold" font-style="italic" font-family="Liberation Sans, sans-serif" fill="#222">λ</text>
<text x="273.0" y="677.5" font-size="12" font-weight="bold" font-style="italic" font-family="Liberation Sans, sans-serif" fill="#222">i</text>
</svg>
</body></html>
